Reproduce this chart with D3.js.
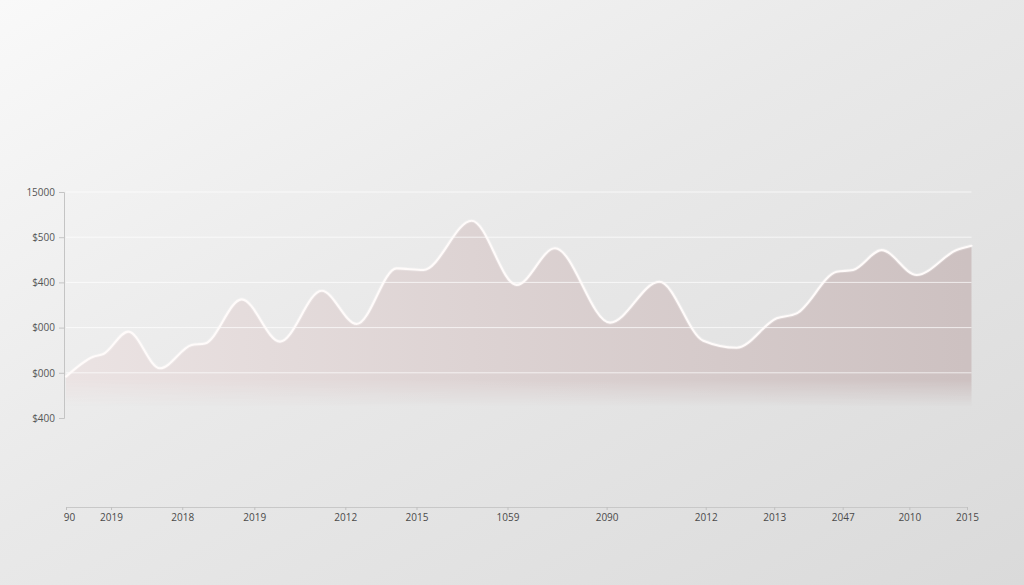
<!DOCTYPE html>
<html>
<head>
<meta charset="utf-8">
<script src="https://cdn.jsdelivr.net/npm/d3@7"></script>
<style>
  html, body { margin: 0; padding: 0; width: 1024px; height: 585px; overflow: hidden; }
  svg { display: block; }
  text { font-family: "Open Sans", "Noto Sans", sans-serif; }
</style>
</head>
<body>
<svg id="chart" width="1024" height="585"></svg>
<script>
// ---- data ----
const xPositions = [0, 3.03, 4.14, 6.91, 10.43, 13.95, 15.43, 19.5, 23.75, 28.38, 32.26, 36.7, 39.66, 45.03, 50.02, 54.27, 60.38, 65.85, 70.73, 74.44, 78.88, 81.1, 85.54, 87.35, 90.53, 94.41, 98.85, 100.5];
const seriesValues = [183, 271, 283, 382, 220, 323, 330, 525, 338, 563, 416, 662, 655, 873, 589, 751, 422, 603, 342, 311, 441, 463, 647, 655, 743, 633, 743, 762];
const xTickPositions = [0, 5.0, 12.9, 20.9, 31.0, 38.9, 49.0, 60.0, 71.0, 78.6, 86.2, 93.6, 100];
const xTickLabels = ["90", "2019", "2018", "2019", "2012", "2015", "1059", "2090", "2012", "2013", "2047", "2010", "2015"];
const yTickValues = [0, 200, 400, 600, 800, 1000];
const yTickLabels = ["$400", "$000", "$000", "$400", "$500", "15000"];

// ---- setup ----
const svg = d3.select("#chart");
const W = 1024, H = 585;
const defs = svg.append("defs");

const bg = defs.append("linearGradient").attr("id", "bg")
  .attr("x1", "0").attr("y1", "0").attr("x2", "1").attr("y2", "1");
bg.append("stop").attr("offset", "0%").attr("stop-color", "#f9f9f9");
bg.append("stop").attr("offset", "45%").attr("stop-color", "#e9e9e9");
bg.append("stop").attr("offset", "100%").attr("stop-color", "#dadada");
svg.append("rect").attr("width", W).attr("height", H).attr("fill", "url(#bg)");

const x = d3.scaleLinear().domain([0, 100]).range([66, 967]);
const y = d3.scaleLinear().domain([0, 1000]).range([418, 192]);

// area gradients
const areaGrad = defs.append("linearGradient").attr("id", "areaGrad")
  .attr("gradientUnits", "userSpaceOnUse")
  .attr("x1", x(0)).attr("y1", 0).attr("x2", x(100)).attr("y2", 0);
areaGrad.append("stop").attr("offset", "0%").attr("stop-color", "#ebe3e3");
areaGrad.append("stop").attr("offset", "45%").attr("stop-color", "#ddd3d3");
areaGrad.append("stop").attr("offset", "100%").attr("stop-color", "#cdc1c1");

const fade = defs.append("linearGradient").attr("id", "fade")
  .attr("gradientUnits", "userSpaceOnUse")
  .attr("x1", 0).attr("y1", y(170)).attr("x2", 0).attr("y2", y(50));
fade.append("stop").attr("offset", "0%").attr("stop-color", "#fff").attr("stop-opacity", 1);
fade.append("stop").attr("offset", "100%").attr("stop-color", "#fff").attr("stop-opacity", 0);
const mask = defs.append("mask").attr("id", "fadeMask")
  .attr("maskUnits", "userSpaceOnUse").attr("x", 0).attr("y", 0).attr("width", W).attr("height", H);
mask.append("rect").attr("width", W).attr("height", H).attr("fill", "url(#fade)");

const data = xPositions.map((p, i) => ({ p, v: seriesValues[i] }));

// area
const area = d3.area().curve(d3.curveMonotoneX)
  .x(d => x(d.p)).y0(y(0)).y1(d => y(d.v));
svg.append("path").datum(data).attr("d", area)
  .attr("fill", "url(#areaGrad)").attr("mask", "url(#fadeMask)");

// grid lines
svg.append("g").selectAll("line").data(yTickValues.slice(1)).join("line")
  .attr("x1", x(0)).attr("x2", x(100.5))
  .attr("y1", d => y(d)).attr("y2", d => y(d))
  .attr("stroke", "#ffffff").attr("stroke-opacity", 0.7).attr("stroke-width", 1);

// y axis
const yAxis = d3.axisLeft(y).tickValues(yTickValues)
  .tickFormat((d, i) => yTickLabels[i]).tickSize(5).tickPadding(4);
const gy = svg.append("g").attr("transform", "translate(64,0)").call(yAxis);
gy.select(".domain").attr("stroke", "#c4c4c4");
gy.selectAll(".tick line").attr("stroke", "#c4c4c4");
gy.selectAll(".tick text").attr("fill", "#555").style("font-size", "10px");

// x axis
const xAxis = d3.axisBottom(x).tickValues(xTickPositions)
  .tickFormat((d, i) => xTickLabels[i]).tickSize(3).tickPadding(4).tickSizeOuter(0);
const gx = svg.append("g").attr("transform", "translate(0,507)").call(xAxis);
gx.select(".domain").attr("stroke", "#c8c8c8");
gx.selectAll(".tick line").attr("stroke", "#c0c0c0");
gx.selectAll(".tick text").attr("fill", "#4a4a4a").style("font-size", "10px")
  .attr("dx", (d, i) => i === 0 ? 3 : 0);

// line
const line = d3.line().curve(d3.curveMonotoneX).x(d => x(d.p)).y(d => y(d.v));
svg.append("path").datum(data).attr("d", line)
  .attr("fill", "none").attr("stroke", "#ffffff").attr("stroke-opacity", 0.2)
  .attr("stroke-width", 4).attr("stroke-linejoin", "round");
svg.append("path").datum(data).attr("d", line)
  .attr("fill", "none").attr("stroke", "#fffbfa").attr("stroke-width", 2.1)
  .attr("stroke-linejoin", "round").attr("stroke-linecap", "round");
</script>
</body>
</html>
